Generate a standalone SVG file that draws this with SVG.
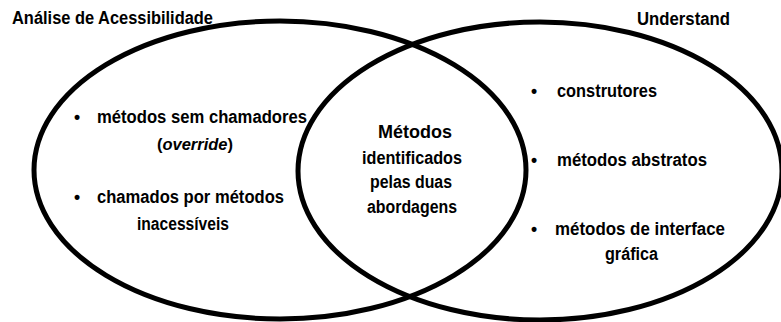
<svg xmlns="http://www.w3.org/2000/svg" width="781" height="322" viewBox="0 0 781 322">
<style>
.ring{fill:none;stroke:#000;stroke-width:5}
text{font-family:"Liberation Sans",Arial,sans-serif;font-weight:bold;font-size:17.5px;fill:#000}
.c{text-anchor:middle}
.i{font-style:italic}
</style>
<rect width="781" height="322" fill="#fff"/>
<g id="left-set">
<ellipse class="ring" cx="280" cy="170" rx="246" ry="149"/>
<text x="12" y="24" textLength="201" lengthAdjust="spacingAndGlyphs">Análise de Acessibilidade</text>
<text x="74" y="123">•</text>
<text x="97" y="123" textLength="210" lengthAdjust="spacingAndGlyphs">métodos sem chamadores</text>
<text class="c" x="195" y="150" style="font-size:16.5px">(<tspan class="i">override</tspan>)</text>
<text x="74" y="203">•</text>
<text x="97" y="203" textLength="187" lengthAdjust="spacingAndGlyphs">chamados por métodos</text>
<text x="137" y="230" textLength="92" lengthAdjust="spacingAndGlyphs">inacessíveis</text>
</g>
<g id="right-set">
<ellipse class="ring" cx="540" cy="171" rx="242" ry="149"/>
<text x="637" y="25" textLength="93" lengthAdjust="spacingAndGlyphs">Understand</text>
<text x="531" y="97">•</text>
<text x="557" y="97" textLength="100" lengthAdjust="spacingAndGlyphs">construtores</text>
<text x="531" y="166">•</text>
<text x="557" y="166" textLength="150" lengthAdjust="spacingAndGlyphs">métodos abstratos</text>
<text x="531" y="235">•</text>
<text x="555" y="235" textLength="170" lengthAdjust="spacingAndGlyphs">métodos de interface</text>
<text x="605" y="260" textLength="53" lengthAdjust="spacingAndGlyphs">gráfica</text>
</g>
<g id="intersection">
<text class="c" x="415" y="138" textLength="74" lengthAdjust="spacingAndGlyphs">Métodos</text>
<text class="c" x="412" y="164" textLength="100" lengthAdjust="spacingAndGlyphs">identificados</text>
<text class="c" x="411" y="188" textLength="82" lengthAdjust="spacingAndGlyphs">pelas duas</text>
<text class="c" x="412" y="213" textLength="90" lengthAdjust="spacingAndGlyphs">abordagens</text>
</g>
<g id="connectors"></g>
</svg>
